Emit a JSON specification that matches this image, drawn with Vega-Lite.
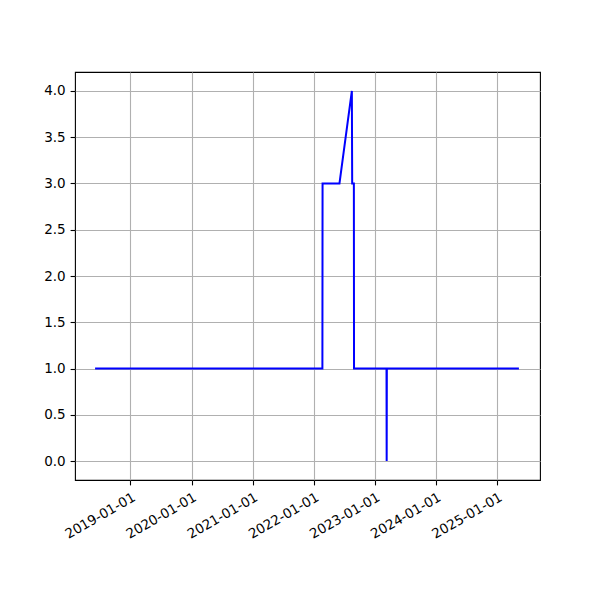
{
  "$schema": "https://vega.github.io/schema/vega-lite/v6.json",
  "width": 465,
  "height": 408,
  "autosize": {"type": "none"},
  "padding": {"left": 75, "top": 72, "right": 60, "bottom": 120},
  "background": "white",
  "config": {
    "font": "DejaVu Sans",
    "view": {"stroke": "black", "strokeWidth": 1.1},
    "axis": {
      "labelFont": "DejaVu Sans",
      "labelFontSize": 13.5,
      "labelColor": "black",
      "labelOverlap": false,
      "domain": false,
      "tickColor": "black",
      "tickSize": 4.9,
      "tickWidth": 1.1,
      "gridColor": "#b0b0b0",
      "gridWidth": 1.1,
      "gridOpacity": 1,
      "labelPadding": 4.9,
      "title": null
    }
  },
  "data": {
    "values": [
      {"date": "2018-06-04", "value": 1},
      {"date": "2022-02-21", "value": 1},
      {"date": "2022-02-22", "value": 3},
      {"date": "2022-06-03", "value": 3},
      {"date": "2022-08-16", "value": 4},
      {"date": "2022-08-18", "value": 3},
      {"date": "2022-08-28", "value": 3},
      {"date": "2022-08-29", "value": 1},
      {"date": "2023-03-11", "value": 1},
      {"date": "2023-03-12", "value": 0},
      {"date": "2023-03-13", "value": 1},
      {"date": "2025-05-10", "value": 1}
    ]
  },
  "mark": {"type": "line", "color": "#0000ff", "strokeWidth": 2, "clip": true},
  "encoding": {
    "x": {
      "field": "date",
      "type": "temporal",
      "scale": {
        "type": "utc",
        "domain": [
          {"year": 2018, "month": 2, "date": 4, "utc": true},
          {"year": 2025, "month": 9, "date": 13, "utc": true}
        ]
      },
      "axis": {
        "values": [
          {"year": 2019, "month": 1, "date": 1, "utc": true},
          {"year": 2020, "month": 1, "date": 1, "utc": true},
          {"year": 2021, "month": 1, "date": 1, "utc": true},
          {"year": 2022, "month": 1, "date": 1, "utc": true},
          {"year": 2023, "month": 1, "date": 1, "utc": true},
          {"year": 2024, "month": 1, "date": 1, "utc": true},
          {"year": 2025, "month": 1, "date": 1, "utc": true}
        ],
        "labelExpr": "utcFormat(datum.value, '%Y-%m-%d')",
        "labelAngle": -30,
        "labelAlign": "right",
        "labelBaseline": "top",
        "labelDx": -5,
        "labelDy": 4,
        "grid": true
      }
    },
    "y": {
      "field": "value",
      "type": "quantitative",
      "scale": {"domain": [-0.205, 4.205], "nice": false, "zero": false},
      "axis": {
        "values": [0, 0.5, 1, 1.5, 2, 2.5, 3, 3.5, 4],
        "format": ".1f",
        "grid": true
      }
    }
  }
}
